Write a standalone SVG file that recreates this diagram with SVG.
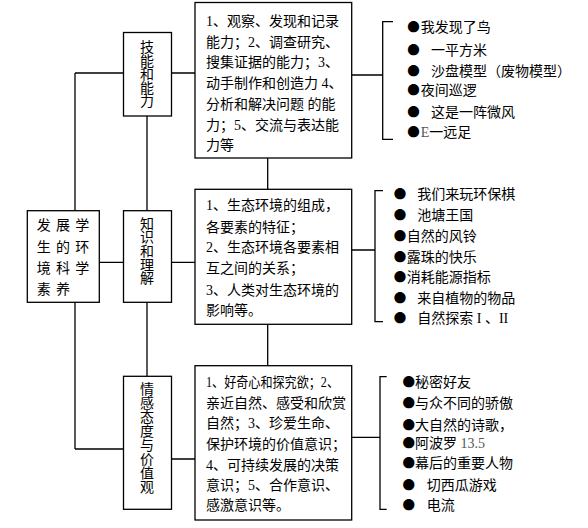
<svg xmlns="http://www.w3.org/2000/svg" width="588" height="528" viewBox="0 0 588 528">
<style>
.box{fill:#fff;stroke:#000;stroke-width:1.3}
.ln{fill:none;stroke:#000;stroke-width:1.3}
text{font-family:"Liberation Serif","Noto Sans CJK SC",serif;font-size:14px;fill:#000}
.v{text-anchor:middle}
.b{font-family:"Noto Sans CJK SC","Liberation Serif",sans-serif;font-size:12.5px}
</style>
<rect width="588" height="528" fill="#fff"/>
<g id="connectors">
<path class="ln" d="M75,73V210.7M75,302.3V449M75,73H123.5M171.5,73H195M99.3,262.3H123.5M171.5,262.3H195M75,449H123.5M171.5,459H195M147,116V210.7M147,302.3V376.3M267.7,158V189.3M267.7,324.3V365.7"/>
<path class="ln" d="M351.7,75H382.7M393,21.7H382.7V139.3H393"/>
<path class="ln" d="M351.7,250H375M383,190.7H375V321.7H383"/>
<path class="ln" d="M351.7,437.3H380M386.7,376.7H380V509.3H386.7"/>
</g>
<g id="root">
<rect class="box" x="27.3" y="210.7" width="72" height="91.6"/>
<text x="36.7" style="letter-spacing:5.3px"><tspan x="36.7" y="230">发展学</tspan><tspan x="36.7" y="252.3">生的环</tspan><tspan x="36.7" y="272.7">境科学</tspan><tspan x="36.7" y="294.3">素养</tspan></text>
</g>
<g id="skill">
<rect class="box" x="123.5" y="32.5" width="48" height="83.5"/>
<text class="v"><tspan x="147" y="52">技</tspan><tspan x="147" y="65.6">能</tspan><tspan x="147" y="79.2">和</tspan><tspan x="147" y="92.8">能</tspan><tspan x="147" y="106.4">力</tspan></text>
</g>
<g id="knowledge">
<rect class="box" x="123.5" y="210.7" width="48" height="91.6"/>
<text class="v"><tspan x="147" y="228.7">知</tspan><tspan x="147" y="242.3">识</tspan><tspan x="147" y="256">和</tspan><tspan x="147" y="269.6">理</tspan><tspan x="147" y="283.2">解</tspan></text>
</g>
<g id="attitude">
<rect class="box" x="123.5" y="376.3" width="48" height="133"/>
<text class="v"><tspan x="147" y="394.3">情</tspan><tspan x="147" y="408.3">感</tspan><tspan x="147" y="422.2">态</tspan><tspan x="147" y="436.2">度</tspan><tspan x="147" y="450.2">与</tspan><tspan x="147" y="464.2">价</tspan><tspan x="147" y="478.2">值</tspan><tspan x="147" y="492.2">观</tspan></text>
</g>
<g id="skill-detail">
<rect class="box" x="195" y="2.5" width="156.7" height="155.5"/>
<text><tspan x="206" y="25.7">1、观察、发现和记录</tspan><tspan x="206" y="46.5">能力；2、调查研究、</tspan><tspan x="206" y="67.3">搜集证据的能力；3、</tspan><tspan x="206" y="88">动手制作和创造力 4、</tspan><tspan x="206" y="108.8">分析和解决问题 的能</tspan><tspan x="206" y="129.6">力；5、交流与表达能</tspan><tspan x="206" y="150.4">力等</tspan></text>
</g>
<g id="knowledge-detail">
<rect class="box" x="195" y="189.3" width="156.7" height="135"/>
<text><tspan x="206" y="210">1、生态环境的组成，</tspan><tspan x="206" y="231.7">各要素的特征；</tspan><tspan x="206" y="251.7">2、生态环境各要素相</tspan><tspan x="206" y="273.3">互之间的关系；</tspan><tspan x="206" y="295">3、人类对生态环境的</tspan><tspan x="206" y="315">影响等。</tspan></text>
</g>
<g id="attitude-detail">
<rect class="box" x="195" y="365.7" width="156.7" height="154.3"/>
<text><tspan x="206" y="387.3" textLength="133" lengthAdjust="spacingAndGlyphs">1、好奇心和探究欲；2、</tspan><tspan x="206" y="407.7">亲近自然、感受和欣赏</tspan><tspan x="206" y="427.7">自然；3、珍爱生命、</tspan><tspan x="206" y="449.3">保护环境的价值意识；</tspan><tspan x="206" y="470">4、可持续发展的决策</tspan><tspan x="206" y="490">意识；5、合作意识、</tspan><tspan x="206" y="510">感激意识等。</tspan></text>
</g>
<g id="skill-activities">
<text><tspan class="b" x="407.2" y="31.7">●</tspan><tspan x="420.7" y="31.7">我发现了鸟</tspan></text>
<text><tspan class="b" x="407.2" y="55">●</tspan><tspan x="431" y="55">一平方米</tspan></text>
<text><tspan class="b" x="407.2" y="75.7">●</tspan><tspan x="431" y="75.7">沙盘模型（废物模型）</tspan></text>
<text><tspan class="b" x="407.2" y="95">●</tspan><tspan x="420.7" y="95">夜间巡逻</tspan></text>
<text><tspan class="b" x="407.2" y="116.7">●</tspan><tspan x="431" y="116.7">这是一阵微风</tspan></text>
<text><tspan class="b" x="407.2" y="136.7">●</tspan><tspan x="420.7" y="136.7" fill="#555">E</tspan><tspan>一远足</tspan></text>
</g>
<g id="knowledge-activities">
<text><tspan class="b" x="393.8" y="199">●</tspan><tspan x="417.3" y="199">我们来玩环保棋</tspan></text>
<text><tspan class="b" x="393.8" y="220">●</tspan><tspan x="417.3" y="220">池塘王国</tspan></text>
<text><tspan class="b" x="393.8" y="240.7">●</tspan><tspan x="406.7" y="240.7">自然的风铃</tspan></text>
<text><tspan class="b" x="393.8" y="262.3">●</tspan><tspan x="406.7" y="262.3">露珠的快乐</tspan></text>
<text><tspan class="b" x="393.8" y="282.3">●</tspan><tspan x="406.7" y="282.3">消耗能源指标</tspan></text>
<text><tspan class="b" x="393.8" y="303.3">●</tspan><tspan x="417.3" y="303.3">来自植物的物品</tspan></text>
<text><tspan class="b" x="393.8" y="323.3">●</tspan><tspan x="417.3" y="323.3">自然探索 I 、II</tspan></text>
</g>
<g id="attitude-activities">
<text><tspan class="b" x="402.6" y="387.3">●</tspan><tspan x="415" y="387.3">秘密好友</tspan></text>
<text><tspan class="b" x="402.6" y="408.3">●</tspan><tspan x="415" y="408.3">与众不同的骄傲</tspan></text>
<text><tspan class="b" x="402.6" y="430">●</tspan><tspan x="415" y="430">大自然的诗歌，</tspan></text>
<text><tspan class="b" x="402.6" y="448.3">●</tspan><tspan x="415" y="448.3">阿波罗 </tspan><tspan fill="#555">13.5</tspan></text>
<text><tspan class="b" x="402.6" y="468.3">●</tspan><tspan x="415" y="468.3">幕后的重要人物</tspan></text>
<text><tspan class="b" x="402.6" y="490">●</tspan><tspan x="426.7" y="490">切西瓜游戏</tspan></text>
<text><tspan class="b" x="402.6" y="510">●</tspan><tspan x="426.7" y="510">电流</tspan></text>
</g>
</svg>
